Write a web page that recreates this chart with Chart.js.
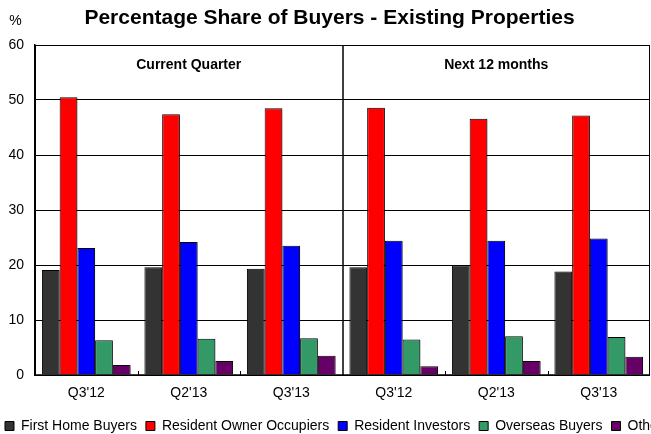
<!DOCTYPE html>
<html><head><meta charset="utf-8">
<script src="https://cdn.jsdelivr.net/npm/chart.js@4/dist/chart.umd.min.js"></script>
<style>
html,body{margin:0;padding:0;overflow:hidden;background:#fff;width:651px;height:434px}
#wrap{position:absolute;left:-4px;top:0;width:704px;height:434px}
</style></head>
<body><div id="wrap"><canvas id="c" width="704" height="434"></canvas></div>
<script>
const titleText = "Percentage Share of Buyers - Existing Properties";
const unitLabel = "%";
const categories = ["Q3'12","Q2'13","Q3'13","Q3'12","Q2'13","Q3'13"];
const panels = ["Current Quarter","Next 12 months"];
const seriesNames = ["First Home Buyers","Resident Owner Occupiers","Resident Investors","Overseas Buyers","Other"];
const firstHome = [19.1,19.6,19.3,19.6,19.9,18.8];
const residentOwner = [50.5,47.4,48.5,48.6,46.6,47.2];
const residentInvestors = [23.1,24.2,23.5,24.4,24.4,24.8];
const overseas = [6.3,6.6,6.7,6.45,7.05,6.9];
const other = [1.8,2.55,3.5,1.6,2.55,3.3];
const yTicks = [0,10,20,30,40,50,60];
const colors = ["#333333","#FF0000","#0000FF","#339966","#660066"];

const FONT = "'Liberation Sans', Arial, sans-serif";
Chart.defaults.font.family = FONT;
Chart.defaults.font.size = 14;
Chart.defaults.color = "#000";

const seriesValues = [firstHome, residentOwner, residentInvestors, overseas, other];

const shadow = {
  id: 'shadow',
  beforeDatasetsDraw(chart) {
    const ctx = chart.ctx;
    ctx.save();
    ctx.shadowColor = 'rgba(0,0,0,0.3)';
    ctx.shadowOffsetX = 2;
    ctx.shadowOffsetY = 1;
    ctx.shadowBlur = 0;
  },
  afterDatasetsDraw(chart) {
    chart.ctx.restore();
  }
};

const decor = {
  id: 'decor',
  afterDatasetsDraw(chart) {
    const ctx = chart.ctx, a = chart.chartArea, x = chart.scales.x;
    ctx.save();
    ctx.shadowColor = 'transparent';
    ctx.strokeStyle = '#000';
    ctx.lineWidth = 1;
    ctx.strokeRect(Math.round(a.left)+0.5, Math.round(a.top)+0.5, Math.round(a.right-a.left)-1, Math.round(a.bottom-a.top));
    const mid = (x.getPixelForValue(2) + x.getPixelForValue(3)) / 2;
    ctx.lineWidth = 1.5;
    ctx.beginPath();
    ctx.moveTo(Math.round(mid), a.top);
    ctx.lineTo(Math.round(mid), a.bottom);
    ctx.stroke();
    ctx.lineWidth = 1;
    [0,1,3,4].forEach(i => {
      const px = Math.round((x.getPixelForValue(i) + x.getPixelForValue(i+1)) / 2) + 0.5;
      ctx.beginPath();
      ctx.moveTo(px, a.bottom);
      ctx.lineTo(px, a.bottom - 4);
      ctx.stroke();
    });
    ctx.lineWidth = 1.5;
    ctx.beginPath();
    ctx.moveTo(a.left, a.bottom);
    ctx.lineTo(a.right, a.bottom);
    ctx.stroke();
    ctx.fillStyle = '#000';
    ctx.font = "bold 14px " + FONT;
    ctx.textAlign = 'center';
    ctx.textBaseline = 'middle';
    ctx.fillText(panels[0], (a.left + mid) / 2, 65);
    ctx.fillText(panels[1], (mid + a.right) / 2, 65);
    ctx.font = "bold 21px " + FONT;
    ctx.fillText(titleText, 333.5, 18);
    ctx.font = "14px " + FONT;
    ctx.fillText(unitLabel, 19.5, 21);
    ctx.restore();
  }
};

new Chart(document.getElementById('c'), {
  type: 'bar',
  data: {
    labels: categories,
    datasets: seriesNames.map((n, i) => ({
      label: n,
      data: seriesValues[i],
      backgroundColor: colors[i],
      borderColor: '#000',
      borderWidth: 1,
      categoryPercentage: 0.865,
      barPercentage: 1
    }))
  },
  options: {
    responsive: false,
    animation: false,
    devicePixelRatio: 1,
    layout: { padding: { top: 45, left: 0, right: 0, bottom: -9 } },
    plugins: {
      title: { display: false },
      tooltip: { enabled: false },
      legend: {
        position: 'bottom',
        align: 'start',
        labels: { boxWidth: 9, boxHeight: 9, padding: 9, font: { size: 14 }, color: '#000' }
      }
    },
    scales: {
      x: {
        grid: { display: false, drawTicks: false },
        border: { display: false },
        ticks: { padding: 10, autoSkip: false, maxRotation: 0, font: { size: 14 }, color: '#000' },
        afterFit: s => { s.height = 35; }
      },
      y: {
        min: 0, max: 60,
        afterBuildTicks: s => { s.ticks = yTicks.map(v => ({ value: v })); },
        grid: { color: '#000', lineWidth: 1, drawTicks: false },
        border: { display: true, color: '#000', width: 1.5 },
        ticks: { padding: 11, font: { size: 14 }, color: '#000' },
        afterFit: s => { s.width = 39; }
      },
      y2: {
        position: 'right',
        display: true,
        grid: { display: false, drawTicks: false },
        border: { display: false },
        ticks: { display: false },
        afterFit: s => { s.width = 50; }
      }
    }
  },
  plugins: [shadow, decor]
});
</script>
</body></html>
